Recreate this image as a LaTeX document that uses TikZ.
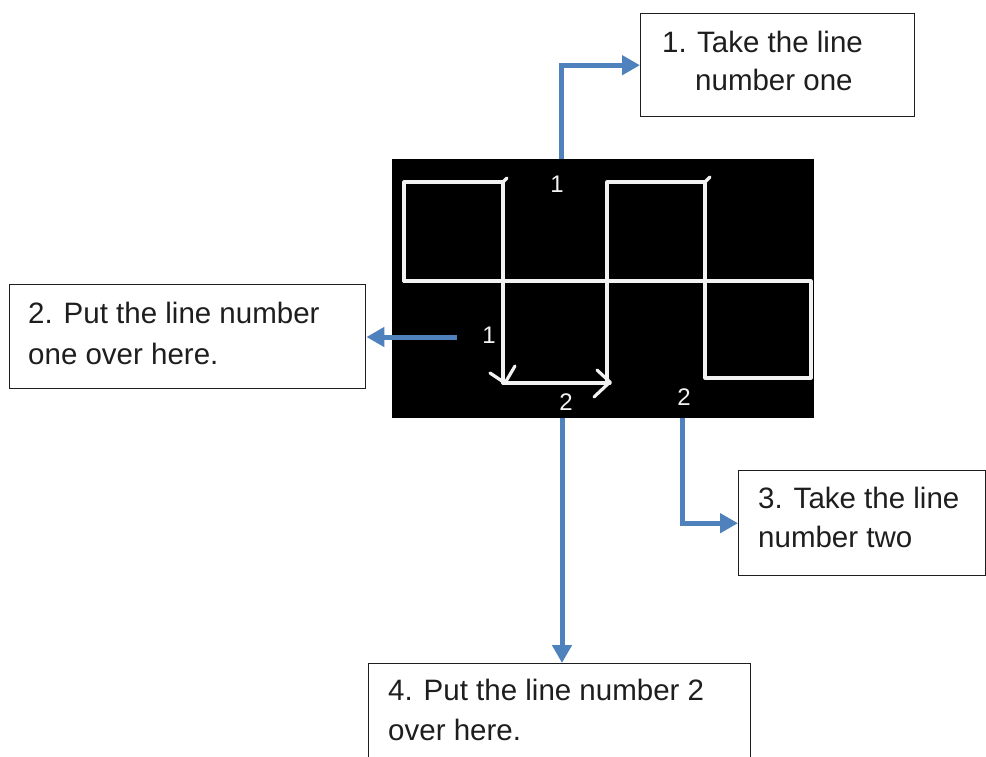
\documentclass[tikz,border=0pt]{standalone}
\usepackage{fontspec}
\setmainfont{Liberation Sans}
\usetikzlibrary{arrows.meta}
\definecolor{linkblue}{HTML}{4F81BD}
\definecolor{inkgray}{HTML}{1E1E1E}
\definecolor{chalk}{HTML}{F2F2F2}
\tikzset{
  notebox/.style={draw=inkgray, line width=1.4pt, fill=white, inner sep=0pt, anchor=north west},
  notetext/.style={font=\fontsize{29.5}{36}\selectfont, text=inkgray, inner sep=0pt, anchor=base west},
  link/.style={draw=linkblue, line width=5pt, -{Triangle[length=18pt,width=19pt]}},
  chalkline/.style={draw=chalk, line width=3.2pt, line join=round, line cap=round},
  chalknum/.style={font=\fontsize{24}{26}\selectfont, text=chalk, inner sep=0pt, anchor=base}
}
\begin{document}
\begin{tikzpicture}[x=1pt,y=-1pt]
\clip (0,0) rectangle (986,756);
\fill[white] (0,0) rectangle (986,756);

% black panel with the chalk figure
\node[fill=black, minimum width=422pt, minimum height=259pt, inner sep=0pt, anchor=north west] (img) at (392,159) {};

% two upper squares, the long middle line and the lower right square
\draw[chalkline] (503,281) -- (404,281) -- (404,182) -- (503,182) -- (503,383);
\draw[chalkline] (503,182) -- (507,178);
\draw[chalkline] (404,281) -- (811,281) -- (811,378) -- (705,378) -- (705,182) -- (607,182) -- (607,383);
\draw[chalkline] (705,182) -- (710,177);
% bottom path with its two arrowheads
\draw[chalkline] (503,383) -- (610,383);
\draw[chalkline] (490,373) -- (505,383) -- (515,366);
\draw[chalkline] (597,370) -- (610,382) -- (594,397);

\node[chalknum] (n1a) at (557,192) {1};
\node[chalknum] (n1b) at (489,343) {1};
\node[chalknum] (n2a) at (566,410) {2};
\node[chalknum] (n2b) at (684,405) {2};

% instruction boxes
\node[notebox, minimum width=274pt, minimum height=103pt] (b1) at (640,13) {};
\node[notetext] (t1a) at (662,52) {\makebox[35pt][l]{1.}Take the line};
\node[notetext] (t1b) at (695,90) {number one};

\node[notebox, minimum width=356pt, minimum height=104pt] (b2) at (9,284) {};
\node[notetext] (t2a) at (28,323) {2. Put the line number};
\node[notetext] (t2b) at (28,364) {one over here.};

\node[notebox, minimum width=247pt, minimum height=105pt] (b3) at (738,470) {};
\node[notetext] (t3a) at (758,508) {3. Take the line};
\node[notetext] (t3b) at (758,547) {number two};

\node[notebox, minimum width=382pt, minimum height=120pt] (b4) at (368,663) {};
\node[notetext] (t4a) at (388,700) {4. Put the line number 2};
\node[notetext] (t4b) at (388,740) {over here.};

% connectors
\coordinate (s1) at (561,159);
\coordinate (s2) at (457,337);
\coordinate (s3) at (682,418);
\coordinate (s4) at (562,418);
\draw[link] (s1) |- (b1.west);
\draw[link] (s2) -- (s2 -| b2.east);
\draw[link] (s3) |- (b3.west);
\draw[link] (s4) -- (s4 |- b4.north);
\end{tikzpicture}
\end{document}
